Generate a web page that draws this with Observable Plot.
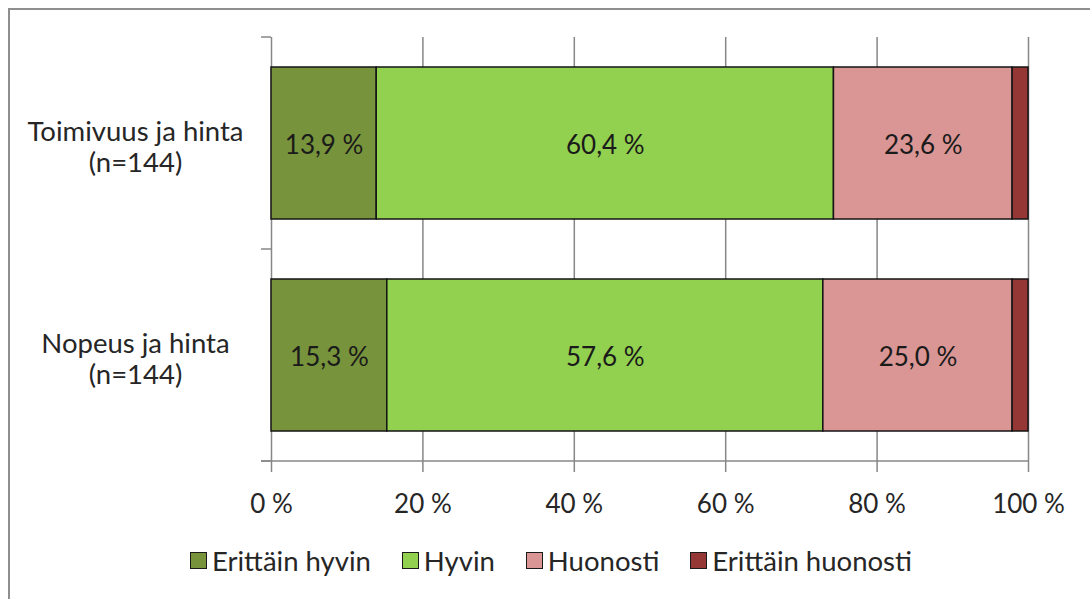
<!DOCTYPE html>
<html>
<head>
<meta charset="utf-8">
<script src="https://cdn.jsdelivr.net/npm/d3@7"></script>
<script src="https://cdn.jsdelivr.net/npm/@observablehq/plot@0.6"></script>
<style>
  html, body { margin: 0; padding: 0; background: #fff; }
  body { width: 1090px; height: 599px; position: relative; overflow: hidden; font-family: Lato, "Open Sans", sans-serif; color: #262626; }
  #frame { position: absolute; left: 8px; top: 8px; width: 1100px; height: 620px; border: 2px solid #8e8e8e; box-sizing: border-box; }
  #chart { position: absolute; left: 0; top: 0; }
  #legend { position: absolute; left: 190px; top: 544px; display: flex; align-items: center; font-size: 27.5px; }
  .item { display: flex; align-items: center; margin-right: 31px; }
  .sw { width: 15px; height: 15px; border: 1.5px solid #1a1a1a; margin-right: 5px; }
</style>
</head>
<body>
<div id="frame"></div>
<div id="chart"></div>
<div id="legend"></div>
<script>
// Survey categories (two lines per label)
const categories = ["Toimivuus ja hinta", "Nopeus ja hinta"];
const categoryLabels = ["Toimivuus ja hinta\n(n=144)", "Nopeus ja hinta\n(n=144)"];

// Response options and colours
const responses = ["Erittäin hyvin", "Hyvin", "Huonosti", "Erittäin huonosti"];
const colors = ["#77933c", "#92d050", "#d99694", "#953735"];

// Shares (%) per category, in response order
const toimivuus = [13.9, 60.4, 23.6, 2.1];
const nopeus = [15.3, 57.6, 25.0, 2.1];

// Percentage axis ticks
const xTicks = [0, 20, 40, 60, 80, 100];

const rows = [];
[toimivuus, nopeus].forEach((vals, i) => {
  vals.forEach((v, j) => rows.push({category: categories[i], response: responses[j], value: v}));
});

const fmt = v => v.toFixed(1).replace(".", ",") + " %";
const axisColor = "#878787";

// Category boundary tick marks and the horizontal axis line (Excel style)
function categoryAxis(index, scales, values, dims) {
  const y = scales.y;
  const bw = scales.scales.y.bandwidth;
  const x0 = dims.marginLeft;
  const x1 = dims.width - dims.marginRight;
  const g = d3.create("svg:g").attr("stroke", axisColor).attr("stroke-width", 1.5);
  const bounds = categories.map(c => y(c)).concat([y(categories[categories.length - 1]) + bw]);
  g.selectAll("line.t").data(bounds).join("line")
    .attr("x1", x0 - 10).attr("x2", x0).attr("y1", d => d).attr("y2", d => d);
  const yb = bounds[bounds.length - 1];
  g.append("line").attr("x1", x0 - 10).attr("x2", x1).attr("y1", yb).attr("y2", yb);
  return g.node();
}

const chart = Plot.plot({
  width: 1090,
  height: 520,
  marginLeft: 271,
  marginRight: 62,
  marginTop: 37,
  marginBottom: 59,
  style: {fontFamily: "Lato, 'Open Sans', sans-serif", fontSize: "26px", color: "#262626", background: "transparent"},
  x: {domain: [0, 100], axis: null},
  y: {domain: categories, padding: 0, axis: null},
  color: {domain: responses, range: colors},
  marks: [
    Plot.gridX(xTicks, {stroke: axisColor, strokeOpacity: 1, strokeWidth: 1.5}),
    Plot.barX(rows, Plot.stackX({
      x: "value", y: "category", fill: "response",
      stroke: "#151515", strokeWidth: 1.5, insetTop: 30, insetBottom: 30
    })),
    Plot.text(rows, Plot.stackX({
      x: "value", y: "category", z: "response",
      text: d => d.response === "Erittäin huonosti" ? null : fmt(d.value),
      fill: "#1a1a1a", fontSize: 26, dy: 2
    })),
    Plot.axisX(xTicks, {
      tickFormat: d => d + " %", tickSize: 11, tickPadding: 22, label: null,
      stroke: axisColor, strokeWidth: 1.5, fill: "#262626", fontSize: 26
    }),
    categoryAxis,
    Plot.text(categories, {
      y: d => d, text: (d, i) => categoryLabels[i],
      frameAnchor: "left", dx: -136, dy: 3, textAnchor: "middle",
      lineHeight: 1.15, fill: "#262626", fontSize: 27.5
    })
  ]
});
document.getElementById("chart").append(chart);

// Legend below the chart
const legend = document.getElementById("legend");
responses.forEach((r, i) => {
  const item = document.createElement("div");
  item.className = "item";
  const sw = document.createElement("div");
  sw.className = "sw";
  sw.style.background = colors[i];
  const label = document.createElement("span");
  label.textContent = r;
  item.append(sw, label);
  legend.append(item);
});
</script>
</body>
</html>
